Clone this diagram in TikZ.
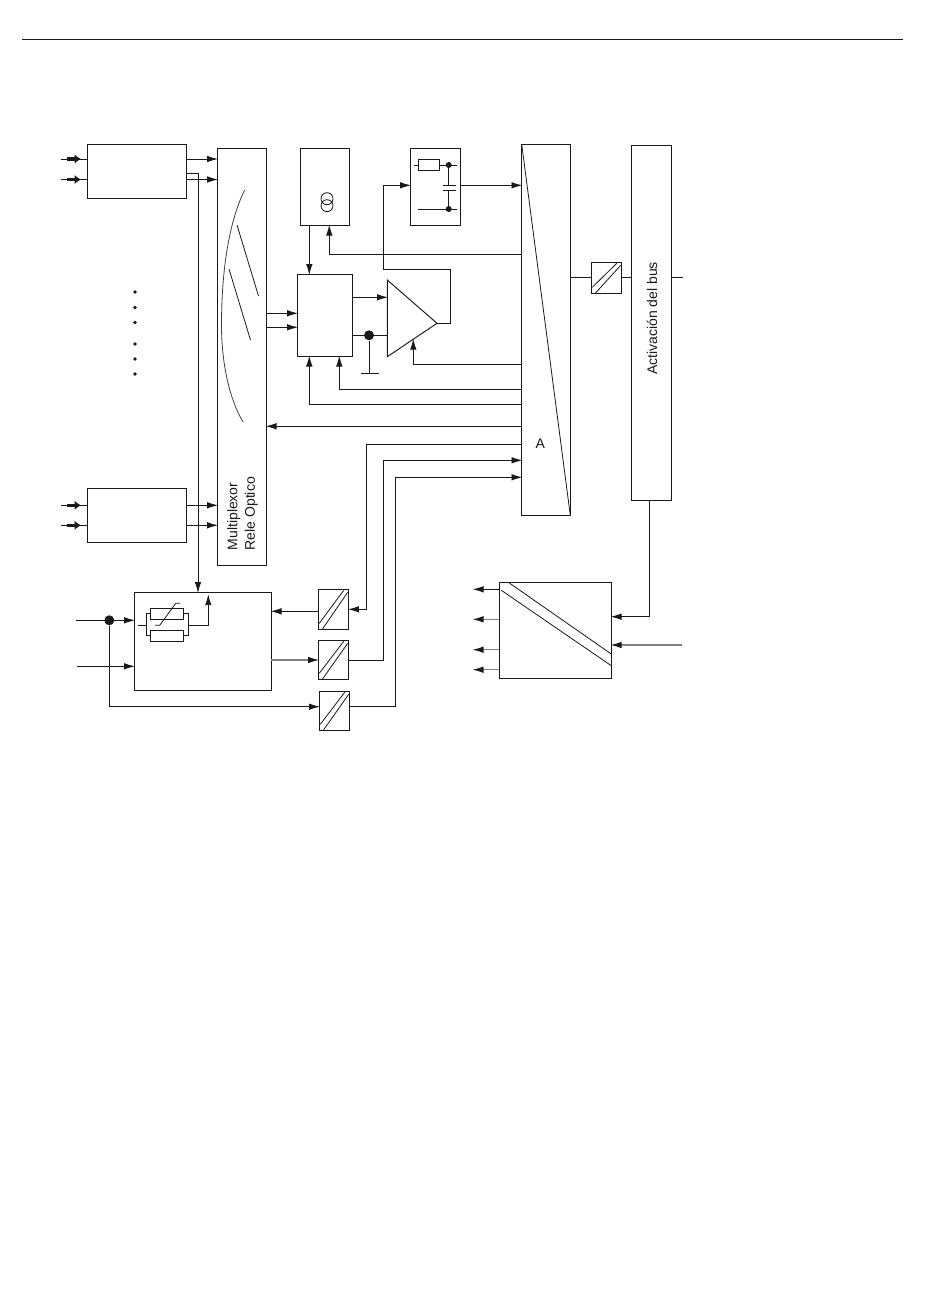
\documentclass[tikz,border=0pt]{standalone}
\usepackage{fontspec}
\setmainfont{Liberation Sans}
\usetikzlibrary{arrows.meta,calc}
\tikzset{
	>={Latex[length=11pt,width=6.5pt]},
	ln/.style={line width=.95pt,black!90,shorten >=-.8pt},
	faint/.style={line width=1.1pt,black!50,shorten >=-.8pt,-{Latex[length=11pt,width=6.5pt,black!90]}},
	blk/.style={draw,line width=.95pt,black!90,inner sep=0pt,outer sep=0pt},
	conv/.style={blk,path picture={
				\draw[line width=.8pt] ([xshift=1pt,yshift=6pt]path picture bounding box.south west) -- ([xshift=-5pt,yshift=-1pt]path picture bounding box.north east);
				\draw[line width=.8pt] ([xshift=4pt,yshift=0pt]path picture bounding box.south west) -- ([xshift=-1pt,yshift=-3pt]path picture bounding box.north east);
			}},
	joint/.style={circle,fill=black!90,inner sep=0pt,minimum size=#1},
	thin part/.style={line width=.8pt,black!90},
	lbl/.style={font=\fontsize{14}{17.5}\selectfont,text=black!90,inner sep=0pt}
}
\begin{document}
\begin{tikzpicture}[x=1pt,y=-1pt]
	\useasboundingbox[fill=white] (0,0) rectangle (950,1301);
	\coordinate (ruleL) at (22,39);
	\coordinate (ruleR) at (902,39);
	\draw[ln] (ruleL) -- (ruleR);

	% blocks
	\node[blk,minimum width=99.4pt,minimum height=54pt] (relA) at (137,171.3) {};
	\node[blk,minimum width=99.4pt,minimum height=54pt] (relB) at (137,515.3) {};
	\node[blk,minimum width=49pt,minimum height=417pt] (mux) at (241.8,356.8) {};
	\node[blk,minimum width=49.4pt,minimum height=77pt] (ccs) at (325,186.8) {};
	\node[blk,minimum width=50.4pt,minimum height=77pt] (rcb) at (435.5,186.8) {};
	\node[blk,minimum width=55pt,minimum height=82pt] (ctrl) at (324.8,315.3) {};
	\node[blk,minimum width=48.6pt,minimum height=371.2pt] (adc) at (546,329.8) {};
	\node[blk,minimum width=40.4pt,minimum height=355pt] (bus) at (651.5,322.8) {};
	\node[blk,minimum width=137pt,minimum height=98pt] (meas) at (202.8,641.3) {};
	\node[blk,minimum width=112pt,minimum height=96pt] (psu) at (555.3,630.3) {};
	\node[conv,minimum width=30.4pt,minimum height=31pt] (convD) at (606.5,277.8) {};
	\node[conv,minimum width=30.4pt,minimum height=40pt] (convA) at (333.5,609.3) {};
	\node[conv,minimum width=30.4pt,minimum height=39pt] (convB) at (333.5,659.8) {};
	\node[conv,minimum width=30.4pt,minimum height=39pt] (convC) at (334.5,710.8) {};

	% amplifier
	\coordinate (ampT) at (387.3,280);
	\coordinate (ampO) at (437,323.3);
	\coordinate (ampB) at (387.3,356.7);
	\draw[ln] (ampT) -- (ampO) -- (ampB) -- cycle;

	% labels
	\node[lbl,rotate=90,anchor=west,align=left] (muxtext) at (242.5,550.5) {Multiplexor\\Rele Optico};
	\node[lbl,rotate=90] (bustext) at (652,318.5) {Activación del bus};
	\node[lbl] (adctext) at (540.3,444) {A};

	% inputs of the relay blocks
	\foreach \yy/\nn in {159/relA,179.5/relA,505.3/relB,525.3/relB}{
			\coordinate (in) at (61,\yy);
			\draw[ln] (in) -- (\nn.west |- in);
			\draw[line width=3.6pt,black!90,-{Latex[length=6.5pt,width=9.5pt]}] ($(in)+(6,0)$) -- ($(in)+(20,0)$);
		}
	\foreach \yy/\nn in {159/relA,179.5/relA,505.3/relB,525.3/relB}{
			\draw[ln,->] (\nn.east |- 0,\yy) -- (mux.west |- 0,\yy);
		}
	\draw[ln,->] (relA.east |- 0,173.5) -| (198,592.3);

	% dots
	\foreach \yy in {292,307.5,322.5,344,359,374}{
			\node[joint=3.8pt] at (135,\yy) {};
		}

	% multiplexor marks
	\draw[thin part,black!75] (244.6,190) .. controls (229,222) and (221.5,270) .. (221.5,325) .. controls (221.5,365) and (230,400) .. (243,422);
	\draw[thin part] (237,225) -- (258.5,296);
	\draw[thin part] (229,269) -- (250.5,340);

	% current source
	\draw[thin part] (327,198.7) circle (6pt);
	\draw[thin part] (327,205.7) circle (6pt);

	% RC element
	\node[blk,minimum width=21.4pt,minimum height=11.4pt] (res) at (429,165) {};
	\node[joint=6pt] (rcA) at (448.7,165) {};
	\node[joint=6pt] (rcB) at (448.7,209) {};
	\coordinate (capA) at (448.7,185.3);
	\coordinate (capB) at (448.7,190.3);
	\draw[ln] (414,165) -- (res.west);
	\draw[ln] (res.east) -- (455.7,165);
	\draw[ln] (418.3,209) -- (455.7,209);
	\draw[ln] (rcA) -- (capA);
	\draw[ln] (capB) -- (rcB);
	\draw[ln] (442.7,185.3) -- (454.7,185.3);
	\draw[ln] (442.7,190.3) -- (454.7,190.3);

	% control block
	\draw[ln,->] (ccs.south -| 309.3,0) -- (ctrl.north -| 309.3,0);
	\draw[ln,->] (adc.west |- 0,254.3) -| (ccs.south -| 329.3,0);
	\draw[ln,->] (mux.east |- 0,313.3) -- (ctrl.west |- 0,313.3);
	\draw[ln,->] (mux.east |- 0,327.3) -- (ctrl.west |- 0,327.3);
	\draw[ln,->] (ctrl.east |- 0,297.3) -- (ampT |- 0,297.3);
	\node[joint=10pt] (gnd) at (369,335.3) {};
	\draw[ln] (ctrl.east |- gnd) -- (gnd) -- (ampT |- gnd);
	\coordinate (gndb) at (369,373.3);
	\draw[ln] (gnd) -- (gndb);
	\draw[ln] ($(gndb)+(-8,0)$) -- ($(gndb)+(9,0)$);

	% amplifier output
	\draw[ln,->] (ampO) -- (450.3,323.3) |- (383.3,269.3) |- (rcb.west |- 0,185.3);
	\draw[ln,->] (rcb.east |- 0,185.3) -- (adc.west |- 0,185.3);
	\coordinate (ampin) at (413.3,339.5);
	\draw[ln,->] (adc.west |- 0,364.3) -| (ampin);

	% return lines of the converter block
	\draw[ln,->] (adc.west |- 0,389.3) -| (ctrl.south -| 339.3,0);
	\draw[ln,->] (adc.west |- 0,404.3) -| (ctrl.south -| 309.3,0);
	\draw[ln,->] (adc.west |- 0,426.3) -- (mux.east |- 0,426.3);
	\draw[ln,->] (adc.west |- 0,444.3) -| (366.3,609.3) -- (convA.east |- 0,609.3);
	\draw[ln,->] (convB.east |- 0,660) -| (383.3,460.3) -- (adc.west |- 0,460.3);
	\draw[ln,->] (convC.east |- 0,706.3) -| (395.3,477.3) -- (adc.west |- 0,477.3);

	% diagonal of the converter block
	\draw[thin part] (adc.north west) -- (adc.south east);

	% bus side
	\coordinate (busout) at (682,277.8);
	\draw[ln] (adc.east |- convD) -- (convD);
	\draw[ln] (convD) -- (bus.west |- convD);
	\draw[ln] (bus.east |- convD) -- (busout);

	% measuring block
	\coordinate (inU) at (76,620.3);
	\coordinate (inV) at (77.3,666.3);
	\node[joint=10pt] (tap) at (109.3,620.3) {};
	\draw[ln,->] (inU) -- (meas.west |- inU);
	\draw[ln,->] (inV) -- (meas.west |- inV);
	\draw[ln,->] (tap) |- (convC.west |- 0,706.7);
	\draw[ln,->] (convA.west |- 0,611.3) -- (meas.east |- 0,611.3);
	\draw[faint] (meas.east |- 0,660) -- (convB.west |- 0,660);
	\node[blk,minimum width=33pt,minimum height=11pt] (rU) at (166.8,613.8) {};
	\node[blk,minimum width=33pt,minimum height=11pt] (rV) at (166.8,635.8) {};
	\draw[ln] (rU.west) -- (146.3,613.8) -- (146.3,635.8) -- (rV.west);
	\draw[ln] (rU.east) -- (188.7,613.8) -- (188.7,635.8) -- (rV.east);
	\coordinate (rin) at (138,625.3);
	\draw[ln] (rin) -- (146.3,625.3);
	\draw[ln,->] (188.7,625.3) -| (208.3,595);
	\draw[thin part] (155,625.3) -- (159.7,625.3) -- (175.7,603.3) -- (180,603.3);

	% power supply
	\draw[thin part] (509.3,583) -- (psu.east |- 0,654);
	\draw[thin part] (501.3,590.3) -- (psu.east |- 0,665.7);
	\coordinate (pA) at (473.3,589.3);
	\coordinate (pB) at (473.3,619.3);
	\coordinate (pC) at (473.3,649.7);
	\coordinate (pD) at (473.3,669.7);
	\coordinate (pE) at (682,645);
	\draw[ln,->] (psu.west |- pA) -- (pA);
	\draw[faint] (psu.west |- pB) -- (pB);
	\draw[faint] (psu.west |- pC) -- (pC);
	\draw[faint] (psu.west |- pD) -- (pD);
	\draw[faint] (pE) -- (psu.east |- pE);
	\draw[ln,->] (bus.south -| 649.3,0) |- (psu.east |- 0,616.7);
\end{tikzpicture}
\end{document}
